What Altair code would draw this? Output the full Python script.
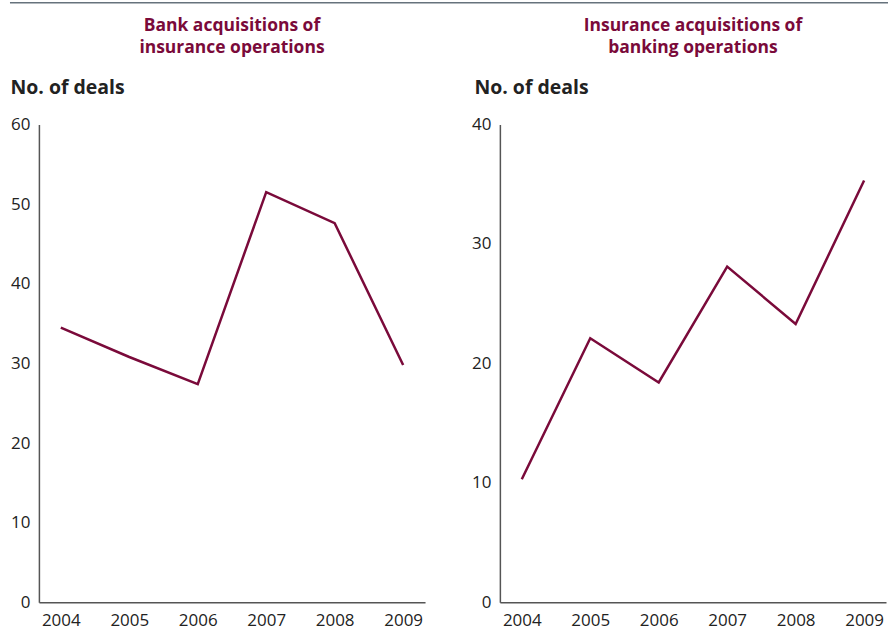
import altair as alt
import pandas as pd

# Deal counts by year
years = ["2004", "2005", "2006", "2007", "2008", "2009"]
bank_buys_insurance = [34.5, 30.8, 27.4, 51.5, 47.6, 29.8]
insurance_buys_bank = [10.3, 22.1, 18.4, 28.1, 23.3, 35.3]

left_title = ["Bank acquisitions of", "insurance operations"]
right_title = ["Insurance acquisitions of", "banking operations"]
y_label = "No. of deals"

MAROON = "#7a0a3a"
FONT = "Open Sans"
W, H = 387, 479
one_row = pd.DataFrame({"k": [0]})


def panel(values, ymax, title, title_x):
    df = pd.DataFrame({"year": years, "deals": values})
    line = alt.Chart(df).mark_line(color=MAROON, strokeWidth=2.5).encode(
        x=alt.X(
            "year:O",
            scale=alt.Scale(padding=0.32),
            axis=alt.Axis(
                title=None, labelAngle=0, ticks=False, domainColor="#555555",
                domainWidth=1.5, labelFontSize=17, labelColor="#222222",
                labelFont=FONT, labelPadding=10,
            ),
        ),
        y=alt.Y(
            "deals:Q",
            scale=alt.Scale(domain=[0, ymax], nice=False),
            axis=alt.Axis(
                title=y_label, titleAngle=0, titleAlign="left",
                titleBaseline="alphabetic", titleX=title_x, titleY=-31,
                titleFontSize=19.5, titleFont=FONT, titleFontWeight="bold",
                titleColor="#222222", tickCount=ymax // 10, ticks=False,
                grid=False, domainColor="#555555", domainWidth=1.5,
                labelFontSize=17, labelColor="#222222", labelFont=FONT,
                labelPadding=9,
            ),
        ),
    )
    # two-line panel heading, centred over the plot area
    heading = alt.Chart(one_row).mark_text(
        color=MAROON, font=FONT, fontSize=17.5, fontWeight="bold",
        align="center", baseline="alphabetic", lineHeight=22,
    ).encode(
        x=alt.value(W / 2), y=alt.value(-94), text=alt.value(title)
    )
    return alt.layer(line, heading).properties(width=W, height=H)


left = panel(bank_buys_insurance, 60, left_title, -29)
# thin rule across the top of the whole figure
top_rule = alt.Chart(one_row).mark_rule(
    color="#66727c", strokeWidth=1.5
).encode(x=alt.value(-29), x2=alt.value(851), y=alt.value(-122))
left = alt.layer(left, top_rule)

right = panel(insurance_buys_bank, 40, right_title, -26)

chart = (
    alt.hconcat(left, right, spacing=75, bounds="flush")
    .properties(padding={"left": 9, "top": 1, "right": 0, "bottom": 0})
    .configure(font=FONT)
    .configure_view(strokeWidth=0)
)

chart.save("out.html", embed_options={"renderer": "svg", "actions": False})
